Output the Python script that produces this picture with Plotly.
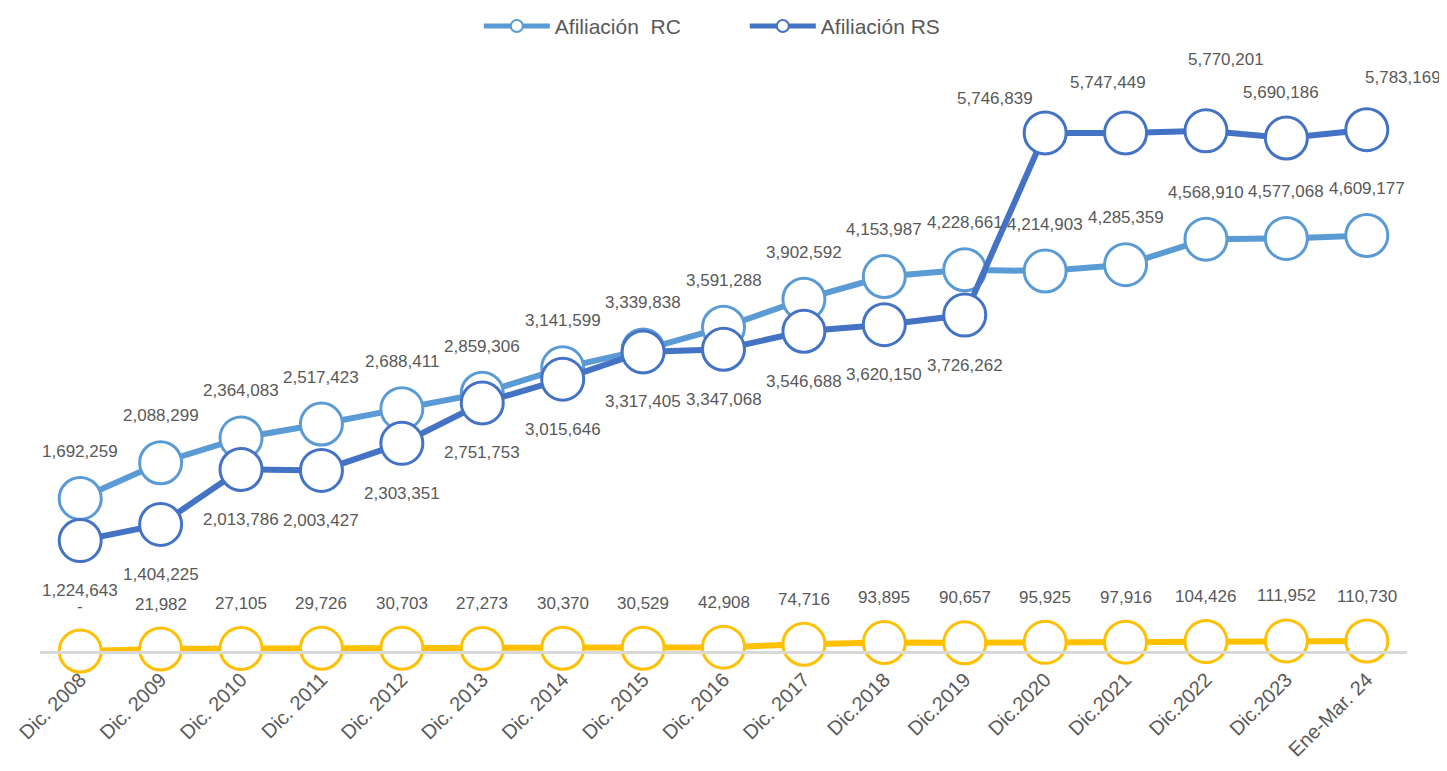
import plotly.graph_objects as go

categories = ["Dic. 2008", "Dic. 2009", "Dic. 2010", "Dic. 2011", "Dic. 2012", "Dic. 2013",
              "Dic. 2014", "Dic. 2015", "Dic. 2016", "Dic. 2017", "Dic.2018", "Dic.2019",
              "Dic.2020", "Dic.2021", "Dic.2022", "Dic.2023", "Ene-Mar. 24"]

afiliacion_rc = [1692259, 2088299, 2364083, 2517423, 2688411, 2859306, 3141599, 3339838,
                 3591288, 3902592, 4153987, 4228661, 4214903, 4285359, 4568910, 4577068, 4609177]

afiliacion_rs = [1224643, 1404225, 2013786, 2003427, 2303351, 2751753, 3015646, 3317405,
                 3347068, 3546688, 3620150, 3726262, 5746839, 5747449, 5770201, 5690186, 5783169]

afiliacion_otro = [0, 21982, 27105, 29726, 30703, 27273, 30370, 30529, 42908, 74716,
                   93895, 90657, 95925, 97916, 104426, 111952, 110730]

# label placement (pixel offsets), styling only
rs_label_dx = [0] * 12 + [-50, -18, 20, -5, 36]
rs_label_dy = [-50] * 12 + [34, 50, 71, 46, 52]

C_RC = "#5B9BD5"
C_RS = "#4472C4"
C_OT = "#FFC000"
GRAY = "#595959"
FONT = "Liberation Sans, Arial, sans-serif"


def fmt(v):
    return "-" if v == 0 else f"{v:,}"


fig = go.Figure()

for name, vals, col, show in [("Afiliación\u00a0 RC", afiliacion_rc, C_RC, True),
                              ("Afiliación RS", afiliacion_rs, C_RS, True),
                              ("Afiliación RE", afiliacion_otro, C_OT, False)]:
    fig.add_trace(go.Scatter(
        x=categories, y=vals, name=name, mode="lines+markers", showlegend=show,
        cliponaxis=False,
        line=dict(color=col, width=6),
        marker=dict(size=42, color="white", line=dict(color=col, width=3)),
        hoverinfo="x+y+name",
    ))

annotations = []
for i, c in enumerate(categories):
    annotations.append(dict(x=c, y=afiliacion_rc[i], text=fmt(afiliacion_rc[i]), showarrow=False,
                            yshift=47, xref="x", yref="y",
                            font=dict(size=17, color=GRAY, family=FONT)))
    annotations.append(dict(x=c, y=afiliacion_rs[i], text=fmt(afiliacion_rs[i]), showarrow=False,
                            yshift=rs_label_dy[i], xshift=rs_label_dx[i], xref="x", yref="y",
                            font=dict(size=17, color=GRAY, family=FONT)))
    annotations.append(dict(x=c, y=afiliacion_otro[i], text=fmt(afiliacion_otro[i]), showarrow=False,
                            yshift=45, xref="x", yref="y",
                            font=dict(size=17, color=GRAY, family=FONT)))

fig.update_layout(
    width=1447, height=771,
    margin=dict(l=32, r=48, t=12, b=128, autoexpand=False),
    paper_bgcolor="white", plot_bgcolor="white",
    font=dict(family=FONT, color=GRAY),
    showlegend=True,
    legend=dict(orientation="h", x=0.321, xanchor="left", y=0.99, yanchor="middle",
                font=dict(size=21, color=GRAY, family=FONT), itemsizing="constant",
                itemwidth=66, entrywidth=185, bgcolor="rgba(0,0,0,0)"),
    xaxis=dict(type="category", range=[-0.5, 16.5], showline=True, linecolor="#D9D9D9",
               linewidth=3, showgrid=False, zeroline=False, ticks="", tickangle=-45,
               automargin=False, ticklabelstandoff=6,
               tickfont=dict(size=20, color=GRAY, family=FONT)),
    yaxis=dict(range=[0, 7000000], visible=False, showgrid=False, zeroline=False,
               automargin=False),
    annotations=annotations,
)

fig.write_html("out.html")
